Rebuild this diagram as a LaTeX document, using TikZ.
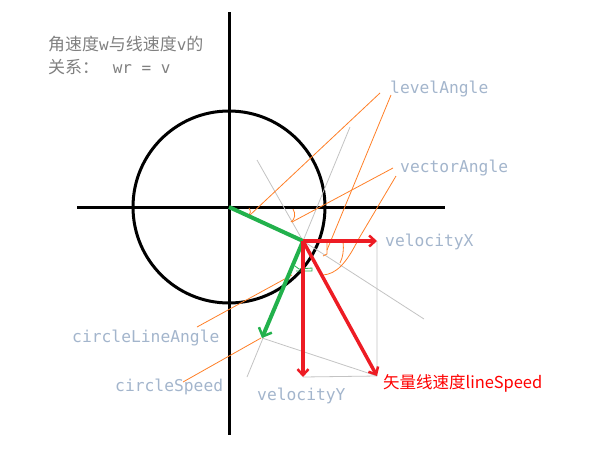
\documentclass[tikz,border=0pt]{standalone}
\usepackage{fontspec}
\setmonofont{DejaVu Sans Mono}
\newfontfamily\cjk{Noto Sans CJK SC}
\usetikzlibrary{arrows.meta}

\definecolor{paintgreen}{RGB}{34,177,76}
\definecolor{paintred}{RGB}{237,28,36}
\definecolor{paintorange}{RGB}{255,127,39}
\definecolor{hintgrey}{RGB}{195,195,195}
\definecolor{labelblue}{RGB}{163,181,204}
\definecolor{notegrey}{RGB}{128,128,128}

\newcommand{\half}[1]{{\fontsize{16}{20}\selectfont\ttfamily #1}}

\tikzset{
  axis/.style={line width=3pt},
  guide/.style={hintgrey, line width=0.8pt},
  callout/.style={paintorange, line width=0.8pt},
  radius line/.style={paintgreen, line width=4pt},
  vec/.style={paintred, line width=3.5pt,
    -{Straight Barb[length=6pt,width=11pt,line width=2.5pt]}},
  vlabel/.style={labelblue, anchor=base west, inner sep=0pt,
    font=\fontsize{16.3}{18}\selectfont\ttfamily},
  note/.style={notegrey, anchor=base west, inner sep=0pt,
    font=\fontsize{17}{20}\selectfont\cjk},
}

\begin{document}
\begin{tikzpicture}[x=1pt,y=-1pt]
\useasboundingbox (0,0) rectangle (591,453);

% axes and circle
\coordinate (O) at (229,207);
\draw[axis] (229,12) -- (229,435);
\draw[axis] (77,207) -- (445,207);
\draw[axis] (O) circle (96);

% points of the velocity triangle
\coordinate (P) at (303,241);
\coordinate (VX) at (377,241);
\coordinate (VY) at (303,377);
\coordinate (V) at (377,376);
\coordinate (T) at (262,338);

% grey helper lines
\draw[guide] (257,160) -- (P) -- (424,319);
\draw[guide] (350,127) -- (247,377);
\draw[guide] (VX) -- (V) -- (VY);
\draw[guide] (T) -- (V);

% angle marks
\draw[callout] (249,208) .. controls (251,212) .. (248,216);
\draw[callout] (293,209) .. controls (296,214) and (295,219) .. (291,222);
\draw[callout] (327,242) -- (327,254) -- (323,256);
\draw[callout] (343,242) .. controls (344,250) and (343,257) .. (340,263);
\draw[paintgreen, line width=0.8pt] (295,266) -- (299,269) -- (312,268)
  -- (312,271) -- (296,271);

% callout lines
\draw[callout] (380,93) -- (250,215);
\draw[callout] (391,95) -- (327,250);
\draw[callout] (393,168) -- (292,222);
\draw[callout] (396,176) -- (358,240) .. controls (346,264) and (336,274) .. (323,275);
\draw[callout] (197,327) -- (292,275);
\draw[callout] (183,382) -- (261,338);

% radius and tangent speed
\draw[radius line] (O) -- (P);
\draw[radius line, -{Straight Barb[length=7pt,width=14pt,line width=2.5pt]}] (P) -- (T);

% velocity components
\draw[vec] (P) -- (VX);
\draw[vec] (P) -- (VY);
\draw[vec] (P) -- (V);

% texts
\node[note] (note1) at (48,50) {角速度\half{w}与线速度\half{v}的};
\node[note] (note2) at (48,73) {关系：\hspace{4pt}\half{\ wr = v}};

\node[vlabel] (level) at (390,93) {levelAngle};
\node[vlabel] (vector) at (400,172) {vectorAngle};
\node[vlabel] (velx) at (385,246) {velocityX};
\node[vlabel] (vely) at (257,400) {velocityY};
\node[vlabel] (cline) at (72,342) {circleLineAngle};
\node[vlabel] (cspeed) at (115,391) {circleSpeed};
\node[red, anchor=base west, inner sep=0pt, font=\fontsize{16.5}{20}\selectfont\cjk]
  (lspeed) at (383,388) {矢量线速度lineSpeed};

\end{tikzpicture}
\end{document}
